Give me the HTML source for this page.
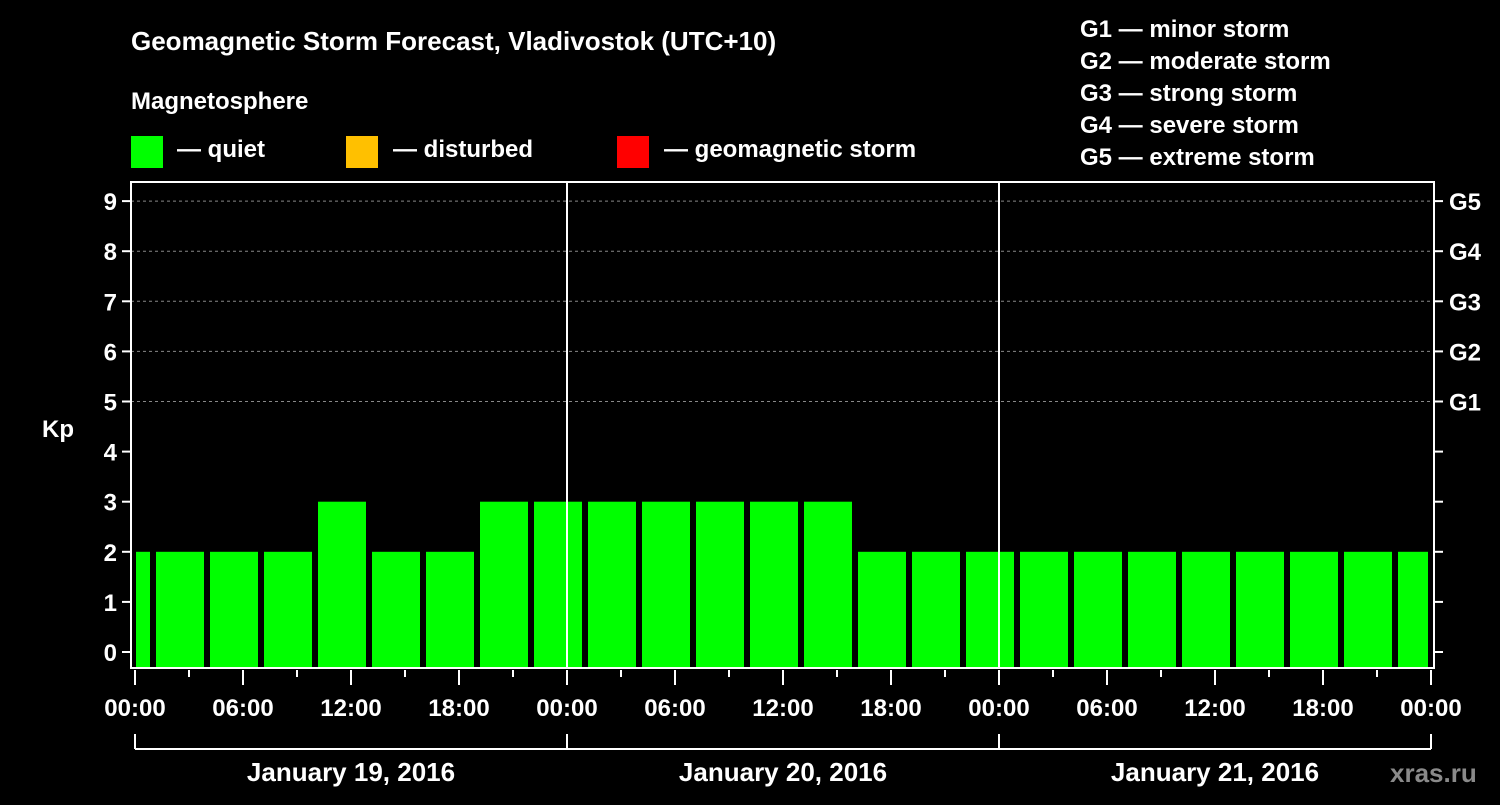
<!DOCTYPE html>
<html><head><meta charset="utf-8"><style>
body{margin:0;background:#000;width:1500px;height:800px;overflow:hidden}
svg text{font-family:"Liberation Sans",Arial,sans-serif;font-weight:bold;fill:#fff}
</style></head><body>
<svg id="chart" width="1500" height="800">
<text x="131" y="50" font-size="26">Geomagnetic Storm Forecast, Vladivostok (UTC+10)</text>
<text x="131" y="109" font-size="24">Magnetosphere</text>
<g><rect x="131" y="136" width="32" height="32" fill="#00ff00"/><text x="177" y="157" font-size="24">— quiet</text></g>
<g><rect x="346" y="136" width="32" height="32" fill="#ffc000"/><text x="393" y="157" font-size="24">— disturbed</text></g>
<g><rect x="617" y="136" width="32" height="32" fill="#ff0000"/><text x="664" y="157" font-size="24">— geomagnetic storm</text></g>
<g font-size="24">
<text x="1080" y="37">G1 — minor storm</text>
<text x="1080" y="69">G2 — moderate storm</text>
<text x="1080" y="101">G3 — strong storm</text>
<text x="1080" y="133">G4 — severe storm</text>
<text x="1080" y="165">G5 — extreme storm</text>
</g>
<g id="plot"></g>
<text x="1390" y="782" font-size="26" fill="#888" style="fill:#8a8a8a">xras.ru</text>
</svg>
<script>
const values=[2,2,2,2,3,2,2,3,3,3,3,3,3,3,2,2,2,2,2,2,2,2,2,2,2];
const yTicks=[0,1,2,3,4,5,6,7,8,9];
const gLabels=["G1","G2","G3","G4","G5"];
const xLabels=["00:00","06:00","12:00","18:00","00:00","06:00","12:00","18:00","00:00","06:00","12:00","18:00","00:00"];
const dayLabels=["January 19, 2016","January 20, 2016","January 21, 2016"];
const firstStart=-2, step=3, totalHours=72;
const X0=135,X1=1431,Y0=652,PY=50.1,TOP=182,BOT=668,LEFT=131,RIGHT=1434;
const x=h=>X0+(X1-X0)*h/totalHours;
const y=v=>Y0-v*PY;
const NS="http://www.w3.org/2000/svg";
const plot=document.getElementById('plot');
function mk(t,a,txt){const e=document.createElementNS(NS,t);for(const k in a)e.setAttribute(k,a[k]);if(txt!==undefined)e.textContent=txt;plot.appendChild(e);return e;}
// grid
[5,6,7,8,9].forEach(v=>{const l=mk('line',{x1:LEFT,x2:RIGHT,y1:y(v),y2:y(v),stroke:'#888','stroke-dasharray':'3,3','stroke-width':1});

});
// bars
values.forEach((v,i)=>{let s=x(firstStart+i*step)+3,e=x(firstStart+(i+1)*step)-3;
s=Math.max(s,LEFT+5);e=Math.min(e,RIGHT-6);
const c=v>=5?'#ff0000':(v>=4?'#ffc000':'#00ff00');
const r=mk('rect',{x:s,y:y(v),width:e-s,height:BOT-y(v),fill:c});

});
// day separators
[24,48].forEach(h=>{const l=mk('line',{x1:x(h),x2:x(h),y1:TOP,y2:BOT,stroke:'#fff','stroke-width':2});

});
// frame
const f=mk('rect',{x:LEFT,y:TOP,width:RIGHT-LEFT,height:BOT-TOP,fill:'none',stroke:'#fff','stroke-width':2});


// y ticks
yTicks.forEach(v=>{mk('line',{x1:LEFT-9,x2:LEFT,y1:y(v),y2:y(v),stroke:'#fff','stroke-width':2});
mk('line',{x1:RIGHT,x2:RIGHT+9,y1:y(v),y2:y(v),stroke:'#fff','stroke-width':2});
const t=mk('text',{x:LEFT-14,y:y(v)+9,'font-size':24,'text-anchor':'end'},String(v));

});
gLabels.forEach((g,i)=>{const t=mk('text',{x:1449,y:y(5+i)+9,'font-size':24},g);

});
const yt=mk('text',{x:42,y:437,'font-size':24},'Kp');


// x ticks
for(let h=0;h<=totalHours;h+=3){const maj=h%6===0;mk('line',{x1:x(h),x2:x(h),y1:BOT+2,y2:BOT+(maj?17:9),stroke:'#fff','stroke-width':2});}
xLabels.forEach((l,i)=>{const t=mk('text',{x:x(i*6),y:716,'font-size':24,'text-anchor':'middle'},l);

});
// day bracket
mk('line',{x1:x(0),x2:x(72),y1:749,y2:749,stroke:'#fff','stroke-width':2});
[0,24,48,72].forEach(h=>mk('line',{x1:x(h),x2:x(h),y1:734,y2:749,stroke:'#fff','stroke-width':2}));
dayLabels.forEach((d,i)=>{const t=mk('text',{x:x(i*24+12),y:781,'font-size':26,'text-anchor':'middle'},d);

});
</script>
</body></html>
